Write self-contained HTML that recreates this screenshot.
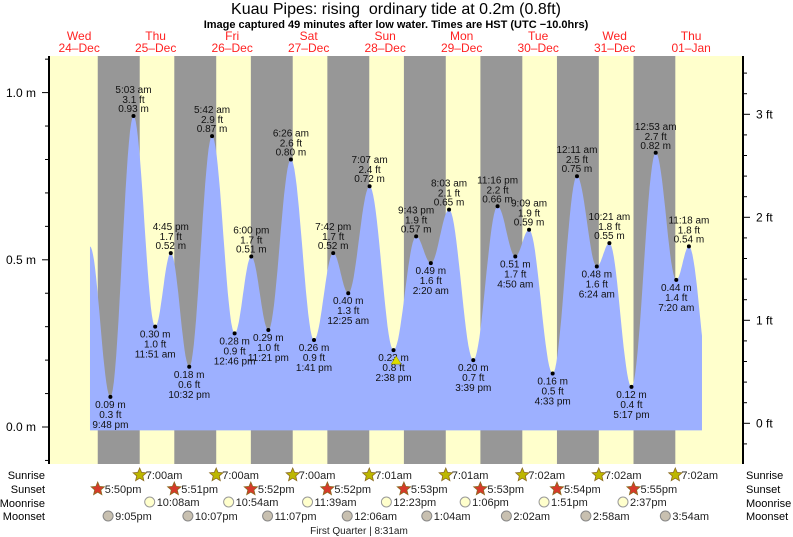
<!DOCTYPE html>
<html><head><meta charset="utf-8"><style>
body{margin:0;background:#fff}
svg{display:block;font-family:"Liberation Sans",sans-serif}
</style></head><body>
<svg id="c" width="793" height="537" xmlns="http://www.w3.org/2000/svg"></svg>
<script>
const S=document.getElementById('c');
let h='';
const X0=117.4,PH=3.1875;
const X=t=>X0+PH*t;
const Y=m=>427-334.4*m;
h+='<rect x="49" y="56" width="694" height="408" fill="#FFFFCC"/>';
const sunset=[[5,50],[5,51],[5,52],[5,52],[5,53],[5,53],[5,54],[5,55]];
const sunrise=[[7,0],[7,0],[7,0],[7,1],[7,1],[7,2],[7,2],[7,2]];
for(let d=0;d<8;d++){
 const ts=(d-1)*24+12+sunset[d][0]+sunset[d][1]/60;
 const tr=d*24+sunrise[d][0]+sunrise[d][1]/60;
 h+=`<rect x="${X(ts)}" y="56" width="${X(tr)-X(ts)}" height="408" fill="#979797"/>`;
}
const E=[[-8.6,0.54],[-2.2,0.09],[5.05,0.93],[11.85,0.30],[16.75,0.52],[22.53,0.18],[29.7,0.87],[36.77,0.28],[42,0.51],[47.35,0.29],[54.43,0.80],[61.68,0.26],[67.7,0.52],[72.42,0.40],[79.12,0.72],[86.63,0.23],[93.72,0.57],[98.33,0.49],[104.05,0.65],[111.65,0.20],[119.27,0.66],[124.83,0.51],[129.15,0.59],[136.55,0.16],[144.18,0.75],[150.4,0.48],[154.35,0.55],[161.28,0.12],[168.88,0.82],[175.33,0.44],[179.3,0.54],[186.5,0.1]];
const tEnd=183.4;
let p=`M${X(-8.6)},${Y(-0.01)} L${X(-8.6)},${Y(0.54)}`;
for(let i=0;i<E.length-1;i++){
 const [t1,m1]=E[i],[t2,m2]=E[i+1];
 for(let k=1;k<=20;k++){
  let t=t1+(t2-t1)*k/20; if(t>tEnd)t=tEnd;
  const f=(t-t1)/(t2-t1);
  const m=m1+(m2-m1)*(1-Math.cos(Math.PI*f))/2;
  p+=` L${X(t).toFixed(1)},${Y(m).toFixed(1)}`;
  if(t>=tEnd)break;
 }
 if(t2>=tEnd)break;
}
p+=` L${X(tEnd)},${Y(-0.01)} Z`;
h+=`<path d="${p}" fill="#9DB0FF"/>`;
const L=[["9:48 pm","0.3","0.09",0],["5:03 am","3.1","0.93",1],["11:51 am","1.0","0.30",0],["4:45 pm","1.7","0.52",1],["10:32 pm","0.6","0.18",0],["5:42 am","2.9","0.87",1],["12:46 pm","0.9","0.28",0],["6:00 pm","1.7","0.51",1],["11:21 pm","1.0","0.29",0],["6:26 am","2.6","0.80",1],["1:41 pm","0.9","0.26",0],["7:42 pm","1.7","0.52",1],["12:25 am","1.3","0.40",0],["7:07 am","2.4","0.72",1],["2:38 pm","0.8","0.23",0],["9:43 pm","1.9","0.57",1],["2:20 am","1.6","0.49",0],["8:03 am","2.1","0.65",1],["3:39 pm","0.7","0.20",0],["11:16 pm","2.2","0.66",1],["4:50 am","1.7","0.51",0],["9:09 am","1.9","0.59",1],["4:33 pm","0.5","0.16",0],["12:11 am","2.5","0.75",1],["6:24 am","1.6","0.48",0],["10:21 am","1.8","0.55",1],["5:17 pm","0.4","0.12",0],["12:53 am","2.7","0.82",1],["7:20 am","1.4","0.44",0],["11:18 am","1.8","0.54",1]];
h+='<g font-size="10" fill="#111" text-anchor="middle">';
L.forEach((l,i)=>{
 const x=X(E[i+1][0]),y=Y(E[i+1][1]);
 h+=`<circle cx="${x}" cy="${y}" r="2" fill="#000"/>`;
 if(l[3]){
  h+=`<text x="${x}" y="${y-4}">${l[2]} m</text><text x="${x}" y="${y-13}">${l[1]} ft</text><text x="${x}" y="${y-23}">${l[0]}</text>`;
 }else{
  h+=`<text x="${x}" y="${y+11}">${l[2]} m</text><text x="${x}" y="${y+21}">${l[1]} ft</text><text x="${x}" y="${y+31}">${l[0]}</text>`;
 }
});
h+='</g>';
{const x=X(87.45),y=Y(0.2);h+=`<polygon points="${x-5},${y+4} ${x+5},${y+4} ${x},${y-4}" fill="#dddd00" stroke="#888800" stroke-width="0.5"/>`;}
h+='<line x1="49" y1="56" x2="49" y2="464" stroke="#000" stroke-width="2"/><line x1="743" y1="56" x2="743" y2="464" stroke="#000" stroke-width="2"/>';
for(let m=-0.1;m<=1.11;m+=0.1){const y=Y(m);const big=Math.abs(m*10%5)<0.01||Math.abs(m*10%5-5)<0.01;h+=`<line x1="${big?42:45}" y1="${y}" x2="49" y2="${y}" stroke="#000"/>`;}
h+='<g font-size="12" fill="#000"><text x="36" y="97" text-anchor="end">1.0 m</text><text x="36" y="264" text-anchor="end">0.5 m</text><text x="36" y="431" text-anchor="end">0.0 m</text>';
for(let f=-0.4;f<=3.6;f+=0.2){const y=423.3-103*f;if(y<56||y>464)continue;const big=Math.abs(f-Math.round(f))<0.01;h+=`<line x1="743" y1="${y}" x2="${big?750:747}" y2="${y}" stroke="#000"/>`;}
[0,1,2,3].forEach(f=>{h+=`<text x="756" y="${427.3-103*f}">${f} ft</text>`});
h+='</g>';
h+='<text x="396" y="14" font-size="16" text-anchor="middle" style="white-space:pre" xml:space="preserve">Kuau Pipes: rising  ordinary tide at 0.2m (0.8ft)</text>';
h+='<text x="396" y="28" font-size="11" font-weight="bold" text-anchor="middle">Image captured 49 minutes after low water. Times are HST (UTC −10.0hrs)</text>';
const days=[["Wed","24–Dec"],["Thu","25–Dec"],["Fri","26–Dec"],["Sat","27–Dec"],["Sun","28–Dec"],["Mon","29–Dec"],["Tue","30–Dec"],["Wed","31–Dec"],["Thu","01–Jan"]];
h+='<g font-size="12" fill="#FF2222" text-anchor="middle">';
days.forEach((d,i)=>{const x=X(-12+24*i);h+=`<text x="${x}" y="40">${d[0]}</text><text x="${x}" y="52">${d[1]}</text>`});
h+='</g>';
h+='<g font-size="11" fill="#000"><text x="45" y="479" text-anchor="end">Sunrise</text><text x="45" y="493" text-anchor="end">Sunset</text><text x="45" y="507" text-anchor="end">Moonrise</text><text x="45" y="520" text-anchor="end">Moonset</text>';
h+='<text x="746" y="479">Sunrise</text><text x="746" y="493">Sunset</text><text x="746" y="507">Moonrise</text><text x="746" y="520">Moonset</text></g>';
function star(cx,cy,fill){let s='';for(let i=0;i<10;i++){const r=i%2?3.2:7,a=-Math.PI/2+i*Math.PI/5;s+=`${(cx+r*Math.cos(a)).toFixed(1)},${(cy+r*Math.sin(a)).toFixed(1)} `;}return `<polygon points="${s}" fill="${fill}" stroke="#8a6a20" stroke-width="0.8"/>`;}
const fmt=(hh,mm,ap)=>`${hh}:${String(mm).padStart(2,'0')}${ap}`;
h+='<g font-size="11" fill="#222">';
sunrise.forEach((s,d)=>{const x=X(d*24+s[0]+s[1]/60);h+=star(x,475,"#BDB700")+`<text x="${x+6}" y="479">${fmt(s[0],s[1],'am')}</text>`});
sunset.forEach((s,d)=>{const x=X((d-1)*24+12+s[0]+s[1]/60);h+=star(x,489,"#D63A2A")+`<text x="${x+7}" y="493">${fmt(s[0],s[1],'pm')}</text>`});
const mr=[[10,8,'am'],[10,54,'am'],[11,39,'am'],[12,23,'pm'],[1,6,'pm'],[1,51,'pm'],[2,37,'pm']];
mr.forEach((m,i)=>{const hr=(m[2]=='pm'&&m[0]!=12?12:0)+m[0]+m[1]/60;const x=X(i*24+hr);h+=`<circle cx="${x}" cy="502" r="5" fill="#FFFFCC" stroke="#999"/><text x="${x+7}" y="506">${fmt(m[0],m[1],m[2])}</text>`});
const ms=[[-24+21+5/60,'9:05pm'],[22+7/60,'10:07pm'],[24+23+7/60,'11:07pm'],[72+6/60,'12:06am'],[96+1+4/60,'1:04am'],[120+2+2/60,'2:02am'],[144+2+58/60,'2:58am'],[168+3+54/60,'3:54am']];
ms.forEach(m=>{const x=X(m[0]);h+=`<circle cx="${x}" cy="516" r="5" fill="#C8C0B0" stroke="#888"/><text x="${x+7}" y="520">${m[1]}</text>`});
h+='<text x="359" y="534" text-anchor="middle" font-size="10">First Quarter | 8:31am</text>';
h+='</g>';
S.innerHTML=h;
</script>
</body></html>
